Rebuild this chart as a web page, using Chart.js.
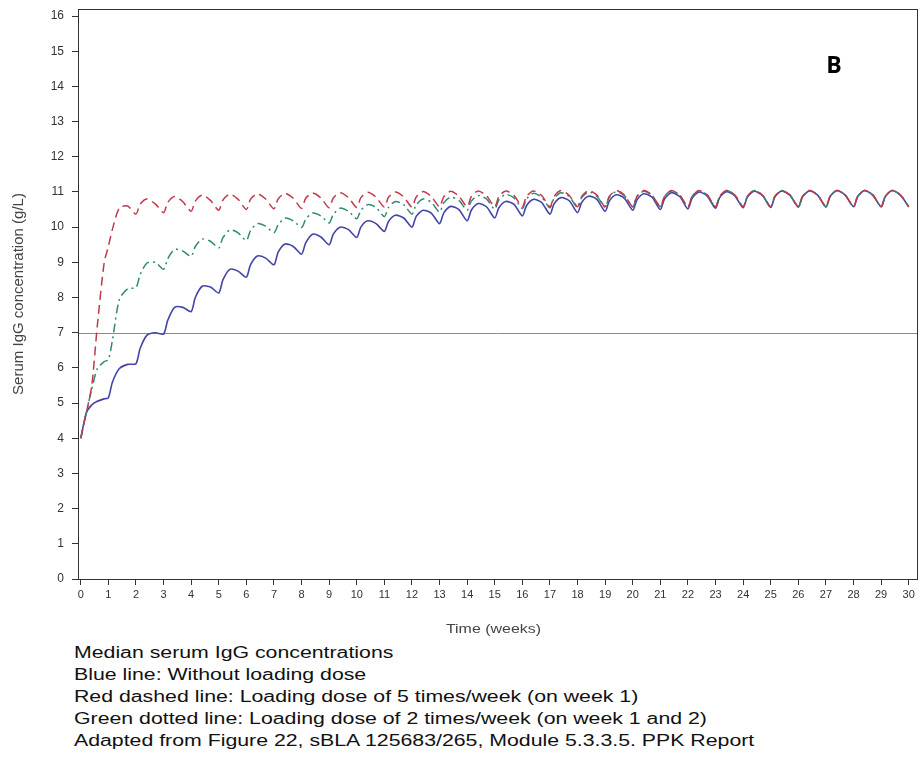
<!DOCTYPE html>
<html>
<head>
<meta charset="utf-8">
<script src="https://cdn.jsdelivr.net/npm/chart.js@4"></script>
<style>
  body { margin: 0; background: #fff; width: 924px; height: 763px; position: relative; overflow: hidden; }
  #wrap { position: absolute; left: 0; top: 0; width: 924px; height: 640px; }
  #caption {
    position: absolute; left: 74px; top: 642px;
    font-family: "Liberation Sans", Arial, sans-serif;
    font-size: 16px; line-height: 22px; color: #111;
    white-space: nowrap;
    transform: scaleX(1.33); transform-origin: 0 0;
  }
</style>
</head>
<body>
<div id="wrap"><canvas id="chart" width="924" height="640"></canvas></div>
<div id="caption">
  Median serum IgG concentrations<br>
  Blue line: Without loading dose<br>
  Red dashed line: Loading dose of 5 times/week (on week 1)<br>
  Green dotted line: Loading dose of 2 times/week (on week 1 and 2)<br>
  Adapted from Figure 22, sBLA 125683/265, Module 5.3.3.5. PPK Report
</div>
<script>
// time grid (weeks) - troughs at dose times, then rise / peak / decline
const weeks = [
  0, 0.2, 0.4, 0.6, 0.85,
  1, 1.15, 1.4, 1.7,
  2, 2.15, 2.4, 2.7,   3, 3.15, 3.4, 3.7,   4, 4.15, 4.4, 4.7,
  5, 5.15, 5.4, 5.7,   6, 6.15, 6.4, 6.7,   7, 7.15, 7.4, 7.7,
  8, 8.15, 8.4, 8.7,   9, 9.15, 9.4, 9.7,   10, 10.15, 10.4, 10.7,
  11, 11.15, 11.4, 11.7, 12, 12.15, 12.4, 12.7, 13, 13.15, 13.4, 13.7,
  14, 14.15, 14.4, 14.7, 15, 15.15, 15.4, 15.7, 16, 16.15, 16.4, 16.7,
  17, 17.15, 17.4, 17.7, 18, 18.15, 18.4, 18.7, 19, 19.15, 19.4, 19.7,
  20, 20.15, 20.4, 20.7, 21, 21.15, 21.4, 21.7, 22, 22.15, 22.4, 22.7,
  23, 23.15, 23.4, 23.7, 24, 24.15, 24.4, 24.7, 25, 25.15, 25.4, 25.7,
  26, 26.15, 26.4, 26.7, 27, 27.15, 27.4, 27.7, 28, 28.15, 28.4, 28.7,
  29, 29.15, 29.4, 29.7,
  30
];

// no loading dose
const blueVals = [
  4.0, 4.72, 4.95, 5.05, 5.12,
  5.15, 5.6, 5.98, 6.1,
  6.12, 6.55, 6.93, 7.0,     6.96, 7.35, 7.72, 7.72,   7.6, 8.0, 8.32, 8.3,
  8.13, 8.5, 8.8, 8.75,      8.58, 8.93, 9.18, 9.12,   8.93, 9.28, 9.52, 9.45,
  9.23, 9.55, 9.8, 9.72,     9.5, 9.8, 10.0, 9.93,     9.71, 10.0, 10.18, 10.1,
  9.88, 10.16, 10.34, 10.26, 10.0, 10.3, 10.48, 10.4, 10.1, 10.4, 10.59, 10.5,
  10.18, 10.48, 10.67, 10.58, 10.26, 10.55, 10.73, 10.65, 10.32, 10.61, 10.79, 10.7,
  10.37, 10.66, 10.84, 10.75, 10.41, 10.7, 10.88, 10.79, 10.45, 10.74, 10.92, 10.82,
  10.48, 10.77, 10.95, 10.85, 10.5, 10.8, 10.98, 10.87, 10.52, 10.82, 11.0, 10.88,
  10.54, 10.84, 11.01, 10.89, 10.55, 10.85, 11.02, 10.9, 10.56, 10.86, 11.03, 10.9,
  10.57, 10.86, 11.03, 10.91, 10.57, 10.87, 11.04, 10.91, 10.58, 10.87, 11.04, 10.91,
  10.58, 10.87, 11.04, 10.91,
  10.58
];

// loading dose 5 times/week on week 1
const redVals = [
  4.0, 4.72, 5.5, 7.2, 9.0,
  9.45, 9.95, 10.55, 10.6,
  10.37, 10.65, 10.8, 10.66,  10.41, 10.7, 10.87, 10.72,  10.45, 10.74, 10.91, 10.76,
  10.48, 10.77, 10.94, 10.79, 10.5, 10.79, 10.95, 10.8,   10.52, 10.8, 10.96, 10.82,
  10.53, 10.82, 10.97, 10.83, 10.55, 10.83, 10.98, 10.84, 10.56, 10.84, 10.99, 10.85,
  10.57, 10.85, 11.0, 10.86,  10.57, 10.85, 11.01, 10.87, 10.58, 10.86, 11.02, 10.88,
  10.58, 10.87, 11.03, 10.89, 10.58, 10.87, 11.03, 10.9,  10.58, 10.87, 11.03, 10.9,
  10.58, 10.87, 11.04, 10.9,  10.58, 10.87, 11.04, 10.91, 10.58, 10.87, 11.04, 10.91,
  10.58, 10.87, 11.04, 10.91, 10.58, 10.87, 11.04, 10.91, 10.58, 10.87, 11.04, 10.91,
  10.58, 10.87, 11.04, 10.91, 10.58, 10.87, 11.04, 10.91, 10.58, 10.87, 11.04, 10.91,
  10.58, 10.87, 11.04, 10.91, 10.58, 10.87, 11.04, 10.91, 10.58, 10.87, 11.04, 10.91,
  10.58, 10.87, 11.04, 10.91,
  10.58
];

// loading dose 2 times/week on weeks 1 and 2
const greenVals = [
  4.0, 4.72, 5.4, 5.98, 6.18,
  6.23, 6.8, 7.95, 8.25,
  8.28, 8.65, 8.98, 9.0,      8.8, 9.1, 9.37, 9.32,      9.17, 9.45, 9.66, 9.6,
  9.41, 9.7, 9.92, 9.84,      9.62, 9.9, 10.1, 10.03,    9.84, 10.06, 10.26, 10.18,
  9.99, 10.22, 10.4, 10.32,   10.12, 10.36, 10.54, 10.45, 10.24, 10.48, 10.64, 10.56,
  10.3, 10.56, 10.73, 10.64,  10.37, 10.63, 10.8, 10.71,  10.43, 10.69, 10.85, 10.76,
  10.48, 10.74, 10.9, 10.8,   10.51, 10.78, 10.93, 10.83, 10.53, 10.8, 10.96, 10.85,
  10.55, 10.82, 10.98, 10.87, 10.56, 10.84, 11.0, 10.88,  10.57, 10.85, 11.01, 10.89,
  10.57, 10.86, 11.02, 10.9,  10.58, 10.87, 11.03, 10.91, 10.58, 10.87, 11.03, 10.91,
  10.58, 10.87, 11.04, 10.91, 10.58, 10.87, 11.04, 10.91, 10.58, 10.87, 11.04, 10.91,
  10.58, 10.87, 11.04, 10.91, 10.58, 10.87, 11.04, 10.91, 10.58, 10.87, 11.04, 10.91,
  10.58, 10.87, 11.04, 10.91,
  10.58
];

const targetLevel = 7;
const panelLabel = 'B';
const xTitle = 'Time (weeks)';

function toPoints(vals) {
  return weeks.map((w, i) => ({ x: w, y: vals[i] }));
}

// frame box, horizontal reference line, panel letter and (stretched) x title
const extras = {
  id: 'extras',
  beforeDatasetsDraw(chart) {
    const { ctx, chartArea: a, scales: { y } } = chart;
    const yy = Math.round(y.getPixelForValue(targetLevel)) + 0.5;
    ctx.save();
    ctx.strokeStyle = '#8a8a8a';
    ctx.lineWidth = 1;
    ctx.beginPath();
    ctx.moveTo(a.left, yy);
    ctx.lineTo(a.right, yy);
    ctx.stroke();
    ctx.restore();
  },
  afterDraw(chart) {
    const { ctx, chartArea: a } = chart;
    ctx.save();
    ctx.strokeStyle = '#333';
    ctx.lineWidth = 1;
    ctx.strokeRect(a.left + 0.5, a.top + 0.5, a.right - a.left, a.bottom - a.top);
    ctx.fillStyle = '#000';
    ctx.font = 'bold 23px "Open Sans", "DejaVu Sans", sans-serif';
    ctx.textAlign = 'center';
    ctx.textBaseline = 'middle';
    ctx.fillText(panelLabel, a.right - 83, a.top + 57);

    ctx.translate((a.left + a.right) / 2 - 4, a.bottom + 51);
    ctx.scale(1.33, 1);
    ctx.fillStyle = '#444';
    ctx.font = '12px "Liberation Sans", Arial, sans-serif';
    ctx.fillText(xTitle, 0, 0);
    ctx.restore();
  }
};

const tickFont = { family: '"Liberation Sans", Arial, sans-serif', size: 11 };
const yTickFont = { family: '"Liberation Sans", Arial, sans-serif', size: 12 };
const titleFont = { family: '"Liberation Sans", Arial, sans-serif', size: 15 };

new Chart(document.getElementById('chart'), {
  type: 'line',
  data: {
    datasets: [
      {
        label: 'Loading dose 5 times/week',
        data: toPoints(redVals),
        borderColor: '#c03a4c',
        borderWidth: 1.5,
        borderDash: [9, 5],
        pointRadius: 0,
        tension: 0.25
      },
      {
        label: 'Loading dose 2 times/week',
        data: toPoints(greenVals),
        borderColor: '#2f8a70',
        borderWidth: 1.5,
        borderDash: [9, 4, 2, 4],
        pointRadius: 0,
        tension: 0.25
      },
      {
        label: 'Without loading dose',
        data: toPoints(blueVals),
        borderColor: '#4444a8',
        borderWidth: 1.6,
        pointRadius: 0,
        tension: 0.25
      }
    ]
  },
  options: {
    responsive: false,
    animation: false,
    layout: { padding: { left: 0, top: 9, right: 7, bottom: 0 } },
    plugins: {
      legend: { display: false },
      tooltip: { enabled: false }
    },
    scales: {
      x: {
        type: 'linear',
        min: -0.1,
        max: 30.3,
        afterFit(scale) { scale.height = 61; },
        border: { color: '#333' },
        grid: { drawOnChartArea: false, drawTicks: true, tickLength: 6, tickColor: '#333' },
        ticks: { stepSize: 1, includeBounds: false, autoSkip: false, maxRotation: 0, padding: 3, color: '#333', font: tickFont }
      },
      y: {
        min: 0,
        max: 16.2,
        afterFit(scale) {
          scale.width = 78;
          scale.paddingTop = 0;
          scale.paddingBottom = 0;
        },
        border: { color: '#333' },
        grid: { drawOnChartArea: false, drawTicks: true, tickLength: 6, tickColor: '#333' },
        ticks: { stepSize: 1, includeBounds: false, padding: 8, color: '#333', font: yTickFont },
        title: { display: true, text: 'Serum IgG concentration (g/L)', color: '#444', font: titleFont, padding: { top: 10, bottom: 0 } }
      }
    }
  },
  plugins: [extras]
});
</script>
</body>
</html>
